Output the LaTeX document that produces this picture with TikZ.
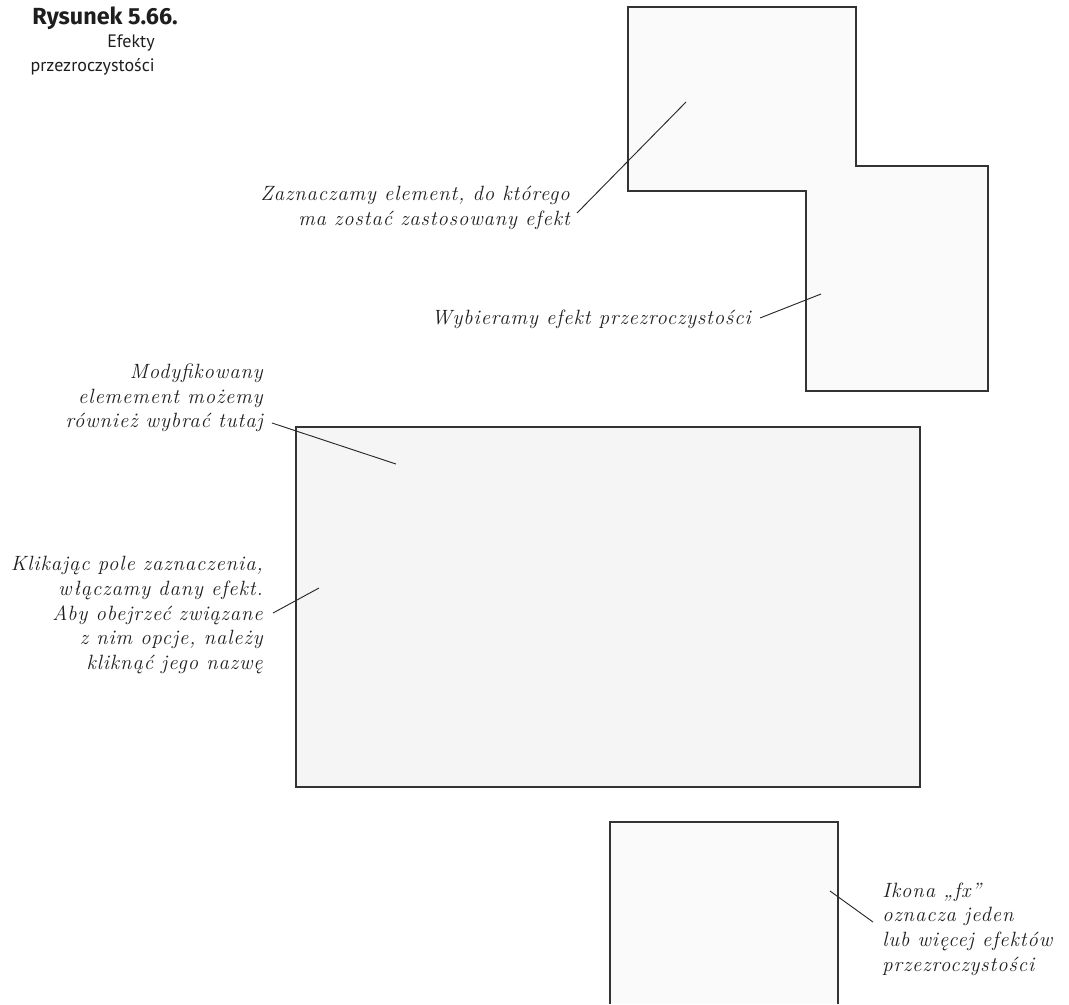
\documentclass[tikz,border=0pt]{standalone}
\usepackage{fontspec}
\usepackage{tikz}
\newfontfamily\capfont{Fira Sans}
\newfontfamily\subfont{PT Sans}
\newfontfamily\notefont{Latin Modern Roman}[LetterSpace=4.5]

\begin{document}
\begin{tikzpicture}[x=0.75pt,y=0.75pt,yscale=-1,xscale=1,
  panel/.style={draw={rgb,255:red,51;green,51;blue,51},line width=0.9pt},
  note/.style={font=\notefont\itshape\fontsize{15.5}{18.5}\selectfont,inner sep=0pt,text={rgb,255:red,30;green,30;blue,30}},
  lead/.style={draw={rgb,255:red,40;green,40;blue,40},line width=0.7pt}]
\useasboundingbox (0,0) rectangle (1069,1004);

%Shape: Polygon [id:panel_top]
\draw [panel,fill={rgb,255:red,250;green,250;blue,250}] (628,7) -- (856,7) -- (856,166) -- (988,166) -- (988,391) -- (806,391) -- (806,191) -- (628,191) -- cycle ;
%Shape: Rectangle [id:panel_mid]
\draw [panel,fill={rgb,255:red,245;green,245;blue,245}] (296,427) rectangle (920,787) ;
%Shape: Rectangle [id:panel_low] (open at the bottom)
\fill [fill={rgb,255:red,250;green,250;blue,250}] (610,822) rectangle (838,1004) ;
\draw [panel] (610,1004) -- (610,822) -- (838,822) -- (838,1004) ;

% Caption
\node [anchor=east,inner sep=0pt,font=\capfont\bfseries\fontsize{17.5}{18}\selectfont,text={rgb,255:red,30;green,30;blue,30}] (fig) at (178,18) {Rysunek 5.66.};
\node [anchor=east,inner sep=0pt,font=\subfont\fontsize{13.5}{18}\selectfont,align=right,text={rgb,255:red,30;green,30;blue,30}] (figtitle) at (155,55) {Efekty\\przezroczystości};

% Text Node
\node [note,anchor=east,align=right] (zaznacz) at (570,208) {Zaznaczamy element, do którego\\ma zostać zastosowany efekt};
% Text Node
\node [note,anchor=east] (wybierz) at (751,319) {Wybieramy efekt przezroczystości};
% Text Node
\node [note,anchor=east,align=right] (modyf) at (263,398) {Modyfikowany\\elemement możemy\\również wybrać tutaj};
% Text Node
\node [note,anchor=east,align=right] (klik) at (263,615) {Klikając pole zaznaczenia,\\włączamy dany efekt.\\Aby obejrzeć związane\\z nim opcje, należy\\kliknąć jego nazwę};
% Text Node
\node [note,anchor=west,align=left] (ikona) at (882,929) {Ikona „fx”\\oznacza jeden\\lub więcej efektów\\przezroczystości};

% Leader lines
\coordinate (a1) at (577,213); \coordinate (b1) at (686,102);
\coordinate (a2) at (760,318); \coordinate (b2) at (821,294);
\coordinate (a3) at (272,423); \coordinate (b3) at (396,464);
\coordinate (a4) at (273,613); \coordinate (b4) at (319,588);
\coordinate (a5) at (873,922); \coordinate (b5) at (830,891);
\draw [lead] (a1) -- (b1) ;
\draw [lead] (a2) -- (b2) ;
\draw [lead] (a3) -- (b3) ;
\draw [lead] (a4) -- (b4) ;
\draw [lead] (a5) -- (b5) ;

\end{tikzpicture}
\end{document}
